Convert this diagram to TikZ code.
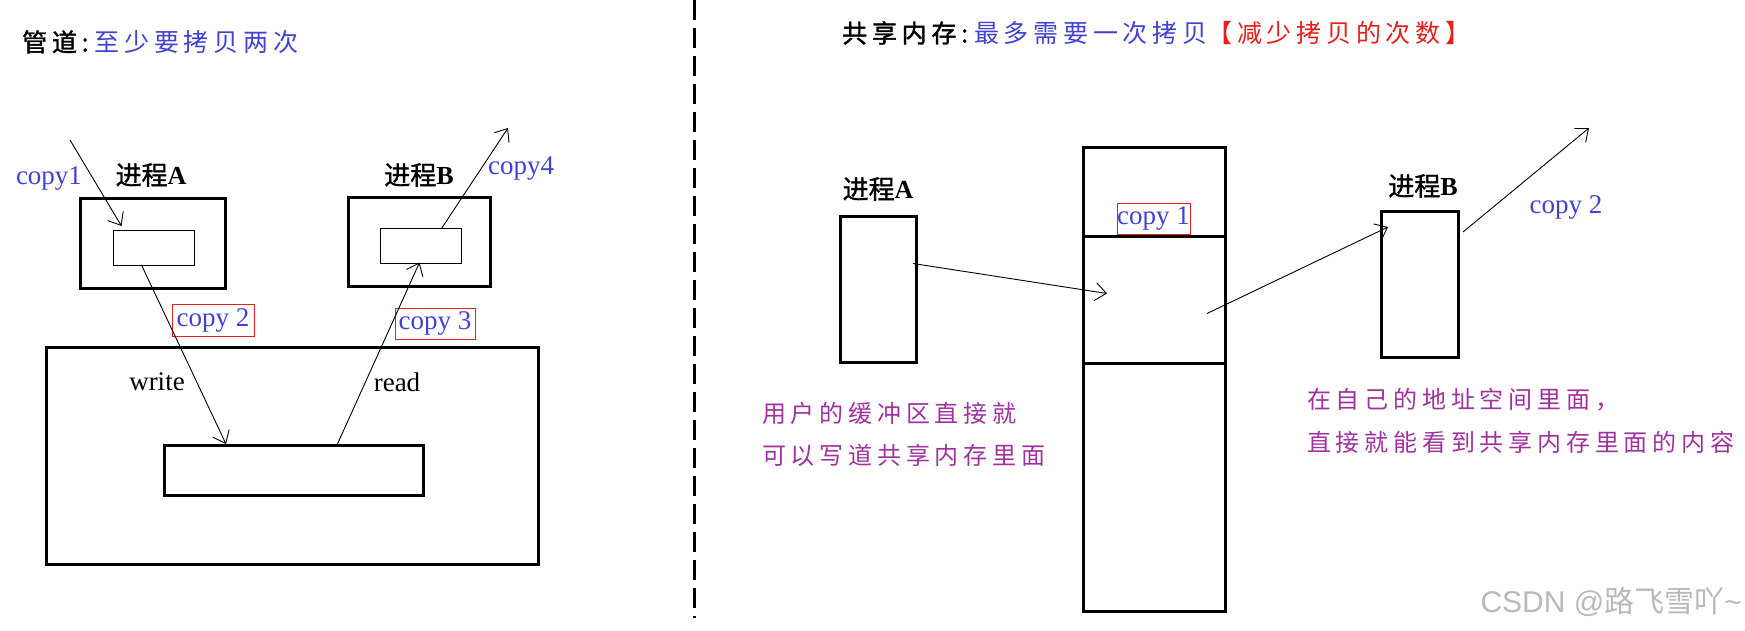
\documentclass[tikz,border=0pt]{standalone}
\usepackage{fontspec}
\setmainfont{Liberation Serif}
\newfontfamily\cjk{Noto Sans CJK SC}
\newfontfamily\cjkb[FakeBold=1.2]{Noto Sans CJK SC}
\newfontfamily\cjkt[LetterSpace=19]{Noto Sans CJK SC}
\newfontfamily\cjktb[LetterSpace=19,FakeBold=1.5]{Noto Sans CJK SC}
\newfontfamily\cjkp[LetterSpace=20]{Noto Sans CJK SC}
\newfontfamily\wmfont{Liberation Sans}
\usetikzlibrary{arrows.meta,calc}
\definecolor{myblue}{RGB}{66,66,210}
\definecolor{mypurple}{RGB}{160,50,160}
\definecolor{myred}{RGB}{232,30,30}
\definecolor{wmgray}{RGB}{185,185,185}
\begin{document}
\begin{tikzpicture}[x=1pt,y=-1pt,
  box/.style={draw,line width=3pt,inner sep=0pt,outer sep=0pt},
  thinbox/.style={draw,line width=1pt,inner sep=0pt,outer sep=0pt},
  lbl/.style={inner sep=0pt,font=\fontsize{27}{30}\selectfont},
  pname/.style={inner sep=0pt,font=\fontsize{26}{30}\selectfont},
  bluelbl/.style={lbl,text=myblue},
  redbox/.style={draw=myred,line width=1pt,inner sep=0pt,text=myblue,font=\fontsize{27}{30}\selectfont},
  title/.style={inner sep=0pt,anchor=west,font=\fontsize{25}{28}\selectfont},
  plbl/.style={inner sep=0pt,anchor=west,text=mypurple,font=\fontsize{24}{28}\selectfont\cjkp},
  conn/.style={line width=0.9pt,-{Straight Barb[length=11pt,width=18pt,line width=0.9pt]}},
  divider/.style={line width=3pt,dash pattern=on 20pt off 8pt}]
\fill[white] (0,0) rectangle (1745,631);
\useasboundingbox (0,0) rectangle (1745,631);
% divider
\coordinate (dtop) at (694,0);
\coordinate (dbot) at (694,618);
\draw[divider] (dtop) -- (dbot);
% ---------- left: pipe ----------
\node[title] (tl) at (22,42) {\cjktb 管道:\hspace{6pt}\textcolor{myblue}{\cjkt 至少要拷贝两次}};
\node[box,minimum width=145,minimum height=89] (paO) at (152.5,243.5) {};
\node[thinbox,minimum width=81,minimum height=35] (paI) at (154,247.5) {};
\node[box,minimum width=142,minimum height=88] (pbO) at (419,242) {};
\node[thinbox,minimum width=81,minimum height=35] (pbI) at (421,246) {};
\node[box,minimum width=492,minimum height=217] (big) at (292,455.5) {};
\node[box,minimum width=259,minimum height=50] (buf) at (293.5,470) {};
\node[pname] (la) at (151,175) {{\cjkb 进程}\textbf{A}};
\node[pname] (lb) at (419,175) {{\cjkb 进程}\textbf{B}};
\node[bluelbl] (c1) at (49,179) {copy1};
\node[bluelbl] (c4) at (521,169) {copy4};
\node[redbox,minimum width=82,minimum height=32] (c2) at (213,320) {copy 2};
\node[redbox,minimum width=80,minimum height=31] (c3) at (435,323.5) {copy 3};
\node[lbl] (wr) at (157,382) {write};
\node[lbl] (rd) at (397,382) {read};
\coordinate (c1s) at (70,140);
\coordinate (c4e) at (508,128);
\draw[conn] (c1s) -- ($(paI.north west)+(8,-4)$);
\draw[conn] ($(paI.south west)+(28,0)$) -- ($(buf.north west)+(62,-1)$);
\draw[conn] ($(buf.north west)+(173,0)$) -- ($(pbI.south west)+(39,-1)$);
\draw[conn] ($(pbI.north west)+(61,0)$) -- (c4e);
% ---------- right: shared memory ----------
\node[title] (tr) at (842,33) {\cjktb 共享内存:\hspace{6pt}\textcolor{myblue}{\cjkt 最多需要一次拷贝}\textcolor{myred}{\cjkt 【减少拷贝的次数】}};
\node[pname] (ra_l) at (878,189) {{\cjkb 进程}\textbf{A}};
\node[box,minimum width=76,minimum height=145] (ra) at (878,289.5) {};
\node[box,minimum width=142,minimum height=88] (shm1) at (1154,192) {};
\node[box,minimum width=142,minimum height=127] (shm2) at (1154,299.5) {};
\node[box,minimum width=142,minimum height=248] (shm3) at (1154,487) {};
\node[redbox,minimum width=73,minimum height=30] (rc1) at (1153.5,219) {copy 1};
\node[pname] (rb_l) at (1423,186) {{\cjkb 进程}\textbf{B}};
\node[box,minimum width=77,minimum height=145] (rb) at (1419.5,284.5) {};
\node[bluelbl] (rc2) at (1566,207) {copy 2};
\coordinate (rc2e) at (1589,128);
\draw[conn] ($(ra.east)+(-3,-26)$) -- ($(shm2.west)+(24,-6)$);
\draw[conn] ($(shm2.east)+(-18,14)$) -- ($(rb.north west)+(7,15)$);
\draw[conn] ($(rb.north east)+(5,20)$) -- (rc2e);
\node[plbl] (p1) at (762,413) {用户的缓冲区直接就};
\node[plbl] (p2) at (762,455) {可以写道共享内存里面};
\node[plbl] (p3) at (1307,400) {在自己的地址空间里面，};
\node[plbl] (p4) at (1307,442) {直接就能看到共享内存里面的内容};
\node[inner sep=0pt,anchor=east,text=wmgray,font=\fontsize{30}{34}\selectfont] (wm) at (1742,602) {\wmfont CSDN @{\cjk 路飞雪吖}\textasciitilde};
\end{tikzpicture}
\end{document}
